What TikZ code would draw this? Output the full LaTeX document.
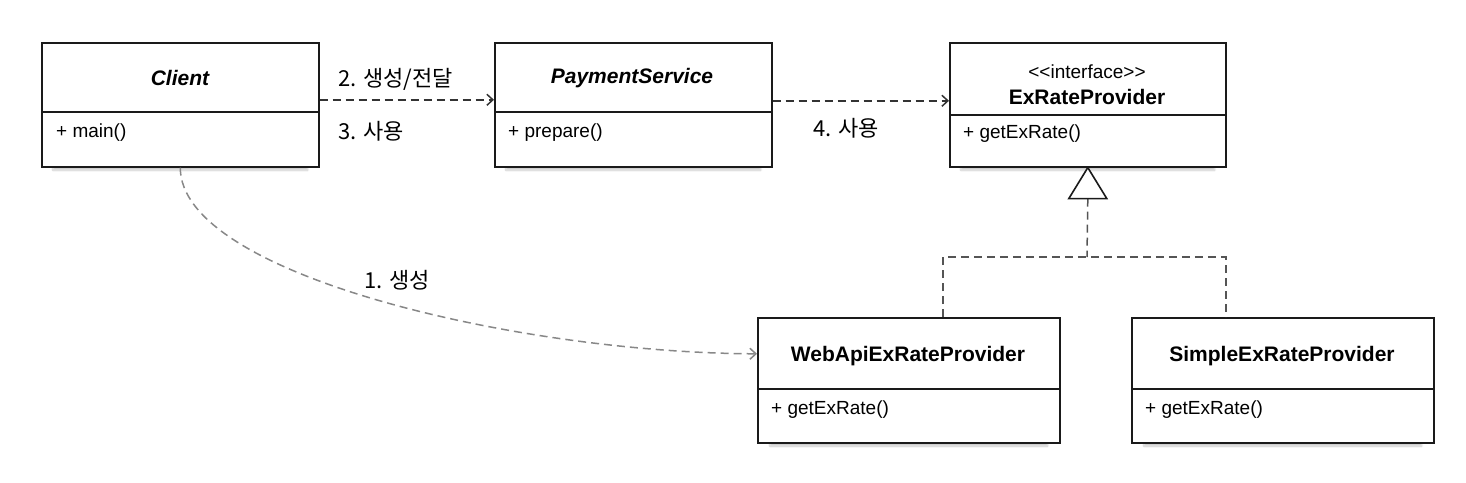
\documentclass[tikz,border=0pt]{standalone}
\usepackage{fontspec}
\setmainfont{Liberation Sans}
\newfontfamily\kr{Noto Sans CJK KR}
\usetikzlibrary{arrows.meta,shadows.blur}
\definecolor{boxline}{HTML}{1A1A1A}
\definecolor{dashdark}{HTML}{333333}
\definecolor{dashmid}{HTML}{555555}
\definecolor{dashlight}{HTML}{888888}
\tikzset{
  classbox/.style={draw=boxline, line width=1.6pt, fill=white, anchor=north west, inner sep=0pt,
    blur shadow={shadow xshift=0pt, shadow yshift=-9pt, shadow scale=0.92, shadow opacity=22, shadow blur steps=8}},
  divider/.style={draw=boxline, line width=1.6pt},
  titletext/.style={font=\fontsize{21}{25}\selectfont\bfseries, inner sep=0pt},
  ititle/.style={font=\fontsize{21}{25}\selectfont\bfseries\itshape, inner sep=0pt},
  stereo/.style={font=\fontsize{19}{23}\selectfont, inner sep=0pt},
  member/.style={font=\fontsize{19}{23}\selectfont, anchor=west, inner sep=0pt},
  lbl/.style={font=\kr\fontsize{22}{26}\selectfont, anchor=west, inner sep=0pt},
  dep/.style={draw=dashdark, line width=1.5pt, dash pattern=on 8pt off 5pt, -{Straight Barb[length=6pt,width=11pt]}},
  create/.style={draw=dashlight, line width=1.5pt, dash pattern=on 8pt off 5pt, -{Straight Barb[length=6pt,width=11pt]}},
  impl/.style={draw=dashmid, line width=1.5pt, dash pattern=on 8pt off 5pt},
  realize/.style={draw=boxline, line width=1.6pt, fill=white, line join=miter},
}
\begin{document}
\begin{tikzpicture}[x=1pt,y=-1pt]
\useasboundingbox (0,0) rectangle (1466,482);
% boxes
\node[classbox, minimum width=277pt, minimum height=124pt] (client) at (41,42) {};
\node[classbox, minimum width=277pt, minimum height=124pt] (pay) at (494,42) {};
\node[classbox, minimum width=276pt, minimum height=124pt] (ex) at (949,42) {};
\node[classbox, minimum width=302pt, minimum height=125pt] (web) at (757,317) {};
\node[classbox, minimum width=302pt, minimum height=125pt] (simple) at (1131,317) {};
% dividers
\draw[divider] (41,112) -- (318,112);
\draw[divider] (494,112) -- (771,112);
\draw[divider] (949,115) -- (1225,115);
\draw[divider] (757,389) -- (1059,389);
\draw[divider] (1131,389) -- (1433,389);
% texts
\node[ititle] (clientt) at (180,78) {Client};
\node[member] (clientm) at (56,133) {+ main()};
\node[ititle] (payt) at (632,78) {PaymentService};
\node[member] (paym) at (508,133) {+ prepare()};
\node[stereo] (exs) at (1087,72) {{<}{<}interface{>}{>}};
\node[titletext] (ext) at (1087,97) {ExRateProvider};
\node[member] (exm) at (963,134) {+ getExRate()};
\node[titletext] (webt) at (908,356) {WebApiExRateProvider};
\node[member] (webm) at (771,410) {+ getExRate()};
\node[titletext] (simplet) at (1282,356) {SimpleExRateProvider};
\node[member] (simplem) at (1145,410) {+ getExRate()};
% labels
\node[lbl] (l2) at (338,79) {2. 생성/전달};
\node[lbl] (l3) at (338,131) {3. 사용};
\node[lbl] (l4) at (813,128) {4. 사용};
\node[lbl] (l1) at (364,280) {1. 생성};
% connectors
\draw[dep] ([yshift=5pt]client.east) -- ([yshift=5pt]pay.west);
\draw[dep] ([yshift=4pt]pay.east) -- ([yshift=4pt]ex.west);
\draw[create] (client.south) .. controls (180,275) and (520,353) .. ([yshift=26.5pt]web.west);
% realization
\coordinate (tri) at ([yshift=-31pt]ex.south);
\coordinate (j) at (1087,257);
\draw[impl] (tri) -- (j);
\draw[impl] ([xshift=34pt]web.north) |- (j) -| ([xshift=-57pt]simple.north);
\draw[realize] (ex.south) -- ++(-19,31) -- ++(38,0) -- cycle;
\end{tikzpicture}
\end{document}
